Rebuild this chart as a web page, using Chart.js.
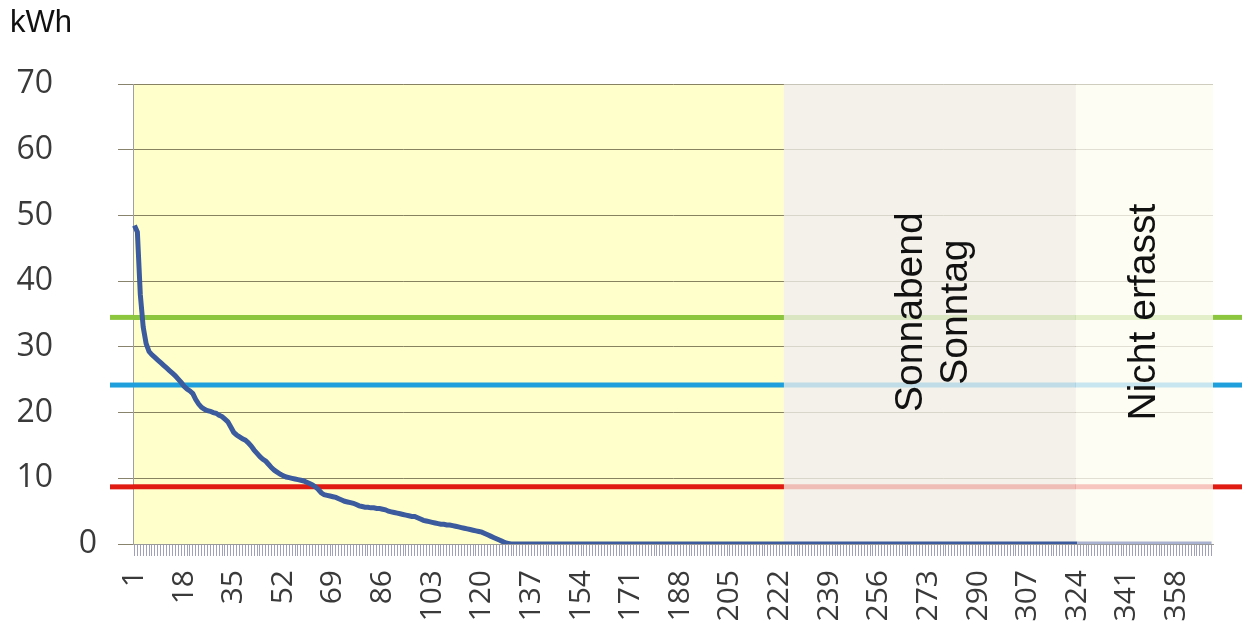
<!DOCTYPE html>
<html>
<head>
<meta charset="utf-8">
<script src="https://cdn.jsdelivr.net/npm/chart.js@4.4.1/dist/chart.umd.min.js"></script>
<style>
  html, body { margin:0; padding:0; background:#fff; }
  canvas { display:block; }
</style>
</head>
<body>
<canvas id="c" width="1242" height="629"></canvas>
<script>
// Tagesverbrauch, absteigend sortiert (kWh), Tag 1..370
const kwh = [
  48.5, 47.5, 38.0, 33.0, 30.5, 29.3, 28.8, 28.4, 28.0, 27.6,
  27.2, 26.8, 26.4, 26.0, 25.6, 25.1, 24.6, 24.0, 23.6, 23.3,
  22.9, 22.0, 21.3, 20.8, 20.5, 20.3, 20.2, 20.0, 19.9, 19.6,
  19.4, 19.0, 18.6, 17.8, 17.0, 16.6, 16.3, 16.0, 15.8, 15.4,
  14.9, 14.3, 13.8, 13.3, 12.9, 12.6, 12.1, 11.6, 11.2, 10.9,
  10.6, 10.4, 10.2, 10.1, 10.0, 9.9, 9.8, 9.7, 9.6, 9.4,
  9.2, 9.0, 8.7, 8.3, 7.8, 7.5, 7.4, 7.3, 7.2, 7.1,
  6.9, 6.7, 6.5, 6.4, 6.3, 6.2, 6.0, 5.8, 5.7, 5.6,
  5.6, 5.5, 5.5, 5.4, 5.4, 5.3, 5.2, 5.0, 4.9, 4.8,
  4.7, 4.6, 4.5, 4.4, 4.3, 4.2, 4.2, 4.0, 3.8, 3.6,
  3.5, 3.4, 3.3, 3.2, 3.1, 3.0, 3.0, 2.9, 2.9, 2.8,
  2.7, 2.6, 2.5, 2.4, 2.3, 2.2, 2.1, 2.0, 1.9, 1.8,
  1.6, 1.4, 1.2, 1.0, 0.8, 0.6, 0.4, 0.2, 0.1,
  0,
  0,0,0,0,0,0,0,0,0,0, 0,0,0,0,0,0,0,0,0,0,
  0,0,0,0,0,0,0,0,0,0, 0,0,0,0,0,0,0,0,0,0,
  0,0,0,0,0,0,0,0,0,0, 0,0,0,0,0,0,0,0,0,0,
  0,0,0,0,0,0,0,0,0,0, 0,0,0,0,0,0,0,0,0,0,
  0,0,0,0,0,0,0,0,0,0, 0,0,0,0,0,0,0,0,0,0,
  0,0,0,0,0,0,0,0,0,0, 0,0,0,0,0,0,0,0,0,0,
  0,0,0,0,0,0,0,0,0,0, 0,0,0,0,0,0,0,0,0,0,
  0,0,0,0,0,0,0,0,0,0, 0,0,0,0,0,0,0,0,0,0,
  0,0,0,0,0,0,0,0,0,0, 0,0,0,0,0,0,0,0,0,0,
  0,0,0,0,0,0,0,0,0,0, 0,0,0,0,0,0,0,0,0,0,
  0,0,0,0,0,0,0,0,0,0, 0,0,0,0,0,0,0,0,0,0,
  0,0,0,0,0,0,0,0,0,0, 0,0,0,0,0,0,0,0,0,0
];
const days = kwh.map((v, i) => String(i + 1));
const labelEvery = 17;

// Grenzwerte (kWh): grün, blau, rot
const limits = [34.5, 24.2, 8.7];
// Bereichsgrenzen (Tag): ab hier Wochenende, ab hier nicht erfasst
const weekendFrom = 223.5;
const missingFrom = 323.5;
const weekendText = ['Sonnabend', 'Sonntag'];
const missingText = ['Nicht erfasst'];

const limitColors = ['#8cc63f', '#1fa0dc', '#e01b12'];
const fontNum = 'Open Sans';
const fontTxt = 'Liberation Sans, Arial, sans-serif';

const areas = {
  id:'areas',
  beforeDraw(chart){
    const {ctx, chartArea:a, scales:{x}} = chart;
    const b1 = x.getPixelForValue(weekendFrom - 1), b2 = x.getPixelForValue(missingFrom - 1);
    ctx.save();
    ctx.fillStyle = '#ffffcc'; ctx.fillRect(a.left, a.top, b1 - a.left, a.bottom - a.top);
    ctx.fillStyle = '#f3f1ea'; ctx.fillRect(b1, a.top, b2 - b1, a.bottom - a.top);
    ctx.fillStyle = '#fefdf3'; ctx.fillRect(b2, a.top, a.right - b2, a.bottom - a.top);
    ctx.restore();
  },
  beforeDatasetsDraw(chart){
    const {ctx, chartArea:a, scales:{x, y}} = chart;
    const b1 = x.getPixelForValue(weekendFrom - 1), b2 = x.getPixelForValue(missingFrom - 1);
    ctx.save();
    ctx.lineWidth = 5;
    limits.forEach((v, i) => {
      const py = y.getPixelForValue(v);
      ctx.strokeStyle = limitColors[i];
      ctx.beginPath(); ctx.moveTo(a.left, py); ctx.lineTo(a.right, py); ctx.stroke();
    });
    ctx.fillStyle = 'rgba(243,241,234,0.76)'; ctx.fillRect(b1, a.top, b2 - b1, a.bottom - a.top);
    ctx.fillStyle = 'rgba(254,253,245,0.76)'; ctx.fillRect(b2, a.top, a.right - b2, a.bottom - a.top);
    ctx.restore();
  },
  afterDraw(chart){
    const {ctx, chartArea:a, scales:{x, y}, width} = chart;
    ctx.save();
    ctx.lineWidth = 5;
    limits.forEach((v, i) => {
      const py = y.getPixelForValue(v);
      ctx.strokeStyle = limitColors[i];
      ctx.beginPath(); ctx.moveTo(a.left - 23, py); ctx.lineTo(a.left, py); ctx.stroke();
      ctx.beginPath(); ctx.moveTo(a.right, py); ctx.lineTo(width, py); ctx.stroke();
    });
    // region captions, rotated
    const b1 = x.getPixelForValue(weekendFrom - 1), b2 = x.getPixelForValue(missingFrom - 1);
    const cy = y.getPixelForValue(35.3);
    ctx.fillStyle = '#111';
    ctx.font = '39px ' + fontTxt;
    ctx.textAlign = 'center'; ctx.textBaseline = 'middle';
    const caption = (lines, cx) => {
      lines.forEach((t, k) => {
        const lx = cx + (k - (lines.length - 1) / 2) * 45;
        ctx.save(); ctx.translate(lx, cy); ctx.rotate(-Math.PI / 2);
        ctx.fillText(t, 0, 0); ctx.restore();
      });
    };
    caption(weekendText, (b1 + b2) / 2 + 4);
    caption(missingText, (b2 + a.right) / 2);
    // unit
    ctx.textAlign = 'left'; ctx.textBaseline = 'alphabetic';
    ctx.font = '31px ' + fontTxt;
    ctx.fillText('kWh', 10, 32);
    // zero label sits nearer the axis
    ctx.fillStyle = '#3a3a3a';
    ctx.font = '32px ' + fontNum;
    ctx.textAlign = 'right'; ctx.textBaseline = 'middle';
    ctx.fillText('0', a.left - 36, y.getPixelForValue(0));
    ctx.restore();
  }
};

new Chart(document.getElementById('c'), {
  type:'line',
  data:{ labels: days, datasets:[{
    data: kwh,
    borderColor:'#3c5a9e',
    borderWidth:5,
    pointRadius:0,
    tension:0,
    segment:{ borderColor: c => c.p0DataIndex >= missingFrom - 0.5 ? '#a9b2d0' : '#3c5a9e' }
  }]},
  options:{
    responsive:false,
    animation:false,
    layout:{ padding:{ left:10, top:82, right:29, bottom:0 } },
    plugins:{ legend:{ display:false }, tooltip:{ enabled:false } },
    scales:{
      x:{
        offset:true,
        grid:{ drawOnChartArea:false, tickLength:12, color:'#a0a0b8', offset:false },
        border:{ color:'#9a9a9a' },
        ticks:{
          autoSkip:false, minRotation:90, maxRotation:90, padding:14,
          color:'#3a3a3a', font:{ family:fontNum, size:30 },
          callback(v, i){ return i % labelEvery === 0 ? this.getLabelForValue(v) : ''; }
        },
        afterFit(s){ s.height = 85; s.paddingLeft = 0; s.paddingRight = 0; }
      },
      y:{
        min:0, max:70,
        grid:{ color:'rgba(95,90,60,0.75)', tickLength:15 },
        border:{ color:'#a0a0a0' },
        ticks:{
          stepSize:10, padding:65, color:'#3a3a3a', font:{ family:fontNum, size:32 },
          callback:v => v === 0 ? '' : v
        },
        afterFit(s){ s.width = 123; }
      }
    }
  },
  plugins:[areas]
});
</script>
</body>
</html>
